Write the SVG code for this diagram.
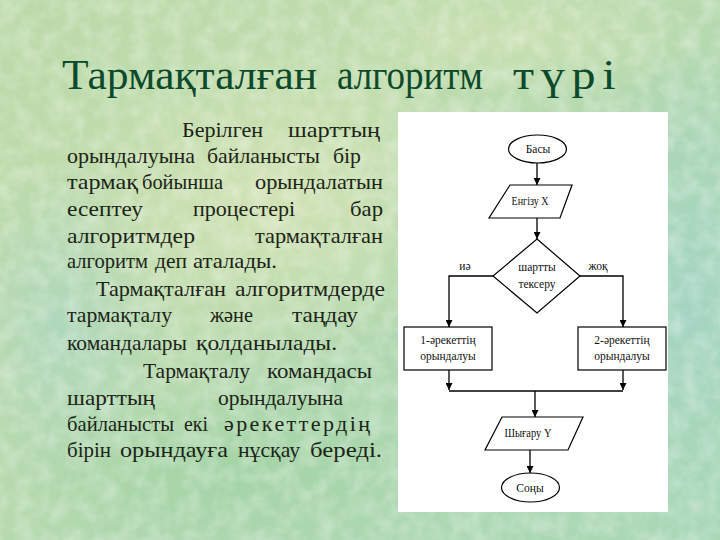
<svg xmlns="http://www.w3.org/2000/svg" width="720" height="540" viewBox="0 0 720 540">
<defs>
  <linearGradient id="bg" x1="0" y1="0" x2="1" y2="1">
    <stop offset="0" stop-color="#bcdaa9"/>
    <stop offset="0.35" stop-color="#bfdcad"/>
    <stop offset="0.6" stop-color="#b0d8b0"/>
    <stop offset="1" stop-color="#a9d8b6"/>
  </linearGradient>
  <radialGradient id="blob1" cx="0.5" cy="0.5" r="0.5">
    <stop offset="0" stop-color="#a2d4c6" stop-opacity="0.8"/>
    <stop offset="1" stop-color="#a2d4c6" stop-opacity="0"/>
  </radialGradient>
  <radialGradient id="blob2" cx="0.5" cy="0.5" r="0.5">
    <stop offset="0" stop-color="#d6e4b6" stop-opacity="0.8"/>
    <stop offset="1" stop-color="#d6e4b6" stop-opacity="0"/>
  </radialGradient>
  <radialGradient id="blob3" cx="0.5" cy="0.5" r="0.5">
    <stop offset="0" stop-color="#9fd2a2" stop-opacity="0.7"/>
    <stop offset="1" stop-color="#9fd2a2" stop-opacity="0"/>
  </radialGradient>
  <filter id="tex" x="0" y="0" width="100%" height="100%">
    <feTurbulence type="fractalNoise" baseFrequency="0.06" numOctaves="3" seed="4" result="n"/>
    <feColorMatrix type="matrix" values="0 0 0 0 1  0 0 0 0 1  0 0 0 0 1  0 0 0 -1.6 1.05" result="w"/>
    <feComposite in="w" in2="SourceGraphic" operator="in"/>
  </filter>
  <marker id="arr" viewBox="0 0 10 10" refX="10" refY="5" markerWidth="7" markerHeight="7" markerUnits="userSpaceOnUse" orient="auto">
    <path d="M0,0 L10,5 L0,10 Z" fill="#000"/>
  </marker>
  <style>
    .title text { font-family: "Liberation Serif", "Times New Roman", serif; font-size: 43px; fill: #0d4a2c; }
    .para text { font-family: "Liberation Serif", "Times New Roman", serif; font-size: 22px; fill: #1c2418; }
    .fc { font-family: "Liberation Serif", "Times New Roman", serif; font-size: 11.5px; fill: #111; text-anchor: middle; }
    .shape { fill: #fff; stroke: #000; stroke-width: 1.2; }
    .line { fill: none; stroke: #000; stroke-width: 1.3; }
  </style>
</defs>

<rect x="0" y="0" width="720" height="540" fill="url(#bg)"/>
<ellipse cx="690" cy="300" rx="120" ry="260" fill="url(#blob1)"/>
<ellipse cx="60" cy="330" rx="110" ry="170" fill="url(#blob1)" opacity="0.7"/>
<ellipse cx="280" cy="200" rx="220" ry="160" fill="url(#blob2)"/>
<ellipse cx="230" cy="470" rx="260" ry="90" fill="url(#blob3)"/>
<ellipse cx="520" cy="40" rx="200" ry="60" fill="url(#blob2)" opacity="0.6"/>
<rect x="0" y="0" width="720" height="540" fill="#ffffff" opacity="0.35" filter="url(#tex)"/>

<g id="title" class="title">
  <text x="62" y="89" textLength="255" lengthAdjust="spacingAndGlyphs">Тармақталған</text>
  <text x="337" y="89" textLength="146" lengthAdjust="spacingAndGlyphs">алгоритм</text>
  <text transform="translate(513,89) scale(1.12,1)" letter-spacing="6">түрі</text>
</g>

<g id="paragraph" class="para">
  <text x="182" y="137" textLength="81" lengthAdjust="spacingAndGlyphs">Берілген</text>
  <text x="288" y="137" textLength="92" lengthAdjust="spacingAndGlyphs">шарттың</text>

  <text x="67" y="163" textLength="128" lengthAdjust="spacingAndGlyphs">орындалуына</text>
  <text x="207" y="163" textLength="113" lengthAdjust="spacingAndGlyphs">байланысты</text>
  <text x="333" y="163" textLength="28" lengthAdjust="spacingAndGlyphs">бір</text>

  <text x="67" y="189" textLength="71" lengthAdjust="spacingAndGlyphs">тармақ</text>
  <text x="142" y="189" textLength="81" lengthAdjust="spacingAndGlyphs">бойынша</text>
  <text x="255" y="189" textLength="128" lengthAdjust="spacingAndGlyphs">орындалатын</text>

  <text x="67" y="216" textLength="76" lengthAdjust="spacingAndGlyphs">есептеу</text>
  <text x="193" y="216" textLength="102" lengthAdjust="spacingAndGlyphs">процестері</text>
  <text x="350" y="216" textLength="33" lengthAdjust="spacingAndGlyphs">бар</text>

  <text x="67" y="243" textLength="128" lengthAdjust="spacingAndGlyphs">алгоритмдер</text>
  <text x="255" y="243" textLength="128" lengthAdjust="spacingAndGlyphs">тармақталған</text>

  <text x="67" y="268" textLength="81" lengthAdjust="spacingAndGlyphs">алгоритм</text>
  <text x="155" y="268" textLength="32" lengthAdjust="spacingAndGlyphs">деп</text>
  <text x="193" y="268" textLength="84" lengthAdjust="spacingAndGlyphs">аталады.</text>

  <text x="96" y="296" textLength="130" lengthAdjust="spacingAndGlyphs">Тармақталған</text>
  <text x="235" y="296" textLength="150" lengthAdjust="spacingAndGlyphs">алгоритмдерде</text>

  <text x="67" y="322" textLength="105" lengthAdjust="spacingAndGlyphs">тармақталу</text>
  <text x="210" y="322" textLength="43" lengthAdjust="spacingAndGlyphs">және</text>
  <text x="292" y="322" textLength="66" lengthAdjust="spacingAndGlyphs">таңдау</text>

  <text x="67" y="350" textLength="120" lengthAdjust="spacingAndGlyphs">командалары</text>
  <text x="196" y="350" textLength="141" lengthAdjust="spacingAndGlyphs">қолданылады.</text>

  <text x="143" y="378" textLength="107" lengthAdjust="spacingAndGlyphs">Тармақталу</text>
  <text x="267" y="378" textLength="105" lengthAdjust="spacingAndGlyphs">командасы</text>

  <text x="67" y="405" textLength="88" lengthAdjust="spacingAndGlyphs">шарттың</text>
  <text x="218" y="405" textLength="125" lengthAdjust="spacingAndGlyphs">орындалуына</text>

  <text x="67" y="431" textLength="107" lengthAdjust="spacingAndGlyphs">байланысты</text>
  <text x="184" y="431" textLength="24" lengthAdjust="spacingAndGlyphs">екі</text>
  <text x="224" y="431" textLength="146" lengthAdjust="spacing">әрекеттердің</text>

  <text x="67" y="457" textLength="44" lengthAdjust="spacingAndGlyphs">бірін</text>
  <text x="120" y="457" textLength="108" lengthAdjust="spacingAndGlyphs">орындауға</text>
  <text x="238" y="457" textLength="62" lengthAdjust="spacingAndGlyphs">нұсқау</text>
  <text x="310" y="457" textLength="72" lengthAdjust="spacingAndGlyphs">береді.</text>
</g>

<rect id="panel" x="398" y="112" width="270" height="400" fill="#ffffff"/>

<g id="connectors">
  <line class="line" x1="537" y1="163" x2="537" y2="185" marker-end="url(#arr)"/>
  <line class="line" x1="537" y1="218" x2="537" y2="239" marker-end="url(#arr)"/>
  <polyline class="line" points="493,276 449,276 449,327" marker-end="url(#arr)"/>
  <polyline class="line" points="580,276 623,276 623,327" marker-end="url(#arr)"/>
  <line class="line" x1="449" y1="370" x2="449" y2="390" marker-end="url(#arr)"/>
  <line class="line" x1="623" y1="370" x2="623" y2="390" marker-end="url(#arr)"/>
  <line class="line" x1="449" y1="391" x2="623" y2="391"/>
  <line class="line" x1="535" y1="391" x2="535" y2="417" marker-end="url(#arr)"/>
  <line class="line" x1="530" y1="450" x2="530" y2="473" marker-end="url(#arr)"/>
  <text class="fc" x="465" y="270">иә</text>
  <text class="fc" x="598" y="270">жоқ</text>
</g>

<g id="start">
  <ellipse class="shape" cx="537.5" cy="149" rx="29" ry="14"/>
  <text class="fc" x="538" y="153">Басы</text>
</g>
<g id="input">
  <polygon class="shape" points="510,185 572,185 560,218 489,218"/>
  <text class="fc" x="530" y="205" textLength="37" lengthAdjust="spacingAndGlyphs">Енгізу Х</text>
</g>
<g id="condition">
  <polygon class="shape" points="537,239 580,276 537,313 493,276"/>
  <text class="fc" x="537" y="271">шартты</text>
  <text class="fc" x="537" y="288">тексеру</text>
</g>
<g id="action1">
  <rect class="shape" x="404" y="327" width="88" height="43"/>
  <text class="fc" x="448" y="344">1-әрекеттің</text>
  <text class="fc" x="448" y="360">орындалуы</text>
</g>
<g id="action2">
  <rect class="shape" x="578" y="327" width="88" height="43"/>
  <text class="fc" x="622" y="344">2-әрекеттің</text>
  <text class="fc" x="622" y="360">орындалуы</text>
</g>
<g id="output">
  <polygon class="shape" points="502,417 583,417 568,450 485,450"/>
  <text class="fc" x="528" y="437" textLength="47" lengthAdjust="spacingAndGlyphs">Шығару Y</text>
</g>
<g id="end">
  <ellipse class="shape" cx="530.5" cy="487.5" rx="29" ry="14.5"/>
  <text class="fc" x="530" y="491.5">Соңы</text>
</g>
</svg>
